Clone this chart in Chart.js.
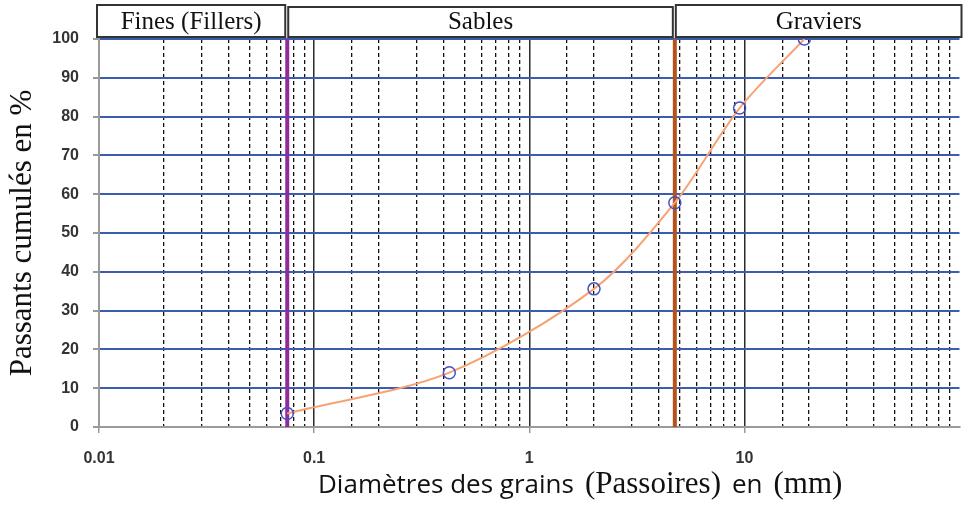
<!DOCTYPE html>
<html lang="fr">
<head>
<meta charset="utf-8">
<title>Courbe granulométrique</title>
<script src="https://cdn.jsdelivr.net/npm/chart.js@4.4.1/dist/chart.umd.min.js"></script>
<style>
    html, body { margin: 0; padding: 0; background: #fff; }
    #wrap { width: 967px; height: 505px; }
</style>
</head>
<body>
<div id="wrap"><canvas id="chart-granulo" width="967" height="505"></canvas></div>
<script>
// ouverture des tamis (mm) et passants cumulés (%)
const tamis = [0.075, 0.425, 2, 4.75, 9.5, 19];
const passants = [3.5, 14, 35.6, 57.8, 82.2, 100];

// limites des classes granulaires (mm) et leurs noms
const limites = [0.01, 0.075, 4.75, 100];
const classes = ['Fines (Fillers)', 'Sables', 'Graviers'];

// graduations
const xLabels = [0.01, 0.1, 1, 10];
const yMin = 0;
const yMax = 100;
const yStep = 10;

function isDecade(v) {
    const lg = Math.log10(v);
    return Math.abs(lg - Math.round(lg)) < 1e-9;
}

function isEdge(v) {
    return Math.abs(v - limites[0]) < 1e-9 || Math.abs(v - limites[limites.length - 1]) < 1e-9;
}

function limitLine(value) {
    return [{ x: value, y: yMin }, { x: value, y: yMax }];
}

// cadres des classes au-dessus du graphique
const classBoxes = {
    id: 'classBoxes',
    afterDraw(chart) {
        const { ctx } = chart;
        const x = chart.scales.x;
        ctx.save();
        ctx.font = '25px "Liberation Serif"';
        ctx.textAlign = 'center';
        ctx.textBaseline = 'middle';
        classes.forEach((name, i) => {
            const left = x.getPixelForValue(limites[i]) - (i === 0 ? 2 : -1);
            const right = x.getPixelForValue(limites[i + 1]) - (i === classes.length - 1 ? -2 : 2);
            const top = i === 1 ? 7 : 5;
            const bottom = 37;
            ctx.fillStyle = '#fff';
            ctx.fillRect(left, top, right - left, bottom - top);
            ctx.strokeStyle = '#333';
            ctx.lineWidth = 2;
            ctx.strokeRect(left, top, right - left, bottom - top);
            ctx.fillStyle = '#111';
            ctx.fillText(name, (left + right) / 2, 22);
        });
        ctx.restore();
    }
};

// titre de l'axe des x, en plusieurs polices
const xTitle = {
    id: 'xTitle',
    afterDraw(chart) {
        const { ctx } = chart;
        const parts = [
            { text: 'Diamètres des grains', font: '26px "Open Sans"' },
            { text: '(Passoires)', font: '31px "Liberation Serif"' },
            { text: 'en', font: '26px "Open Sans"' },
            { text: '(mm)', font: '31px "Liberation Serif"' }
        ];
        ctx.save();
        ctx.fillStyle = '#111';
        ctx.textBaseline = 'alphabetic';
        let x = 318;
        parts.forEach(p => {
            ctx.font = p.font;
            ctx.fillText(p.text, x, 493);
            x += ctx.measureText(p.text).width + 11;
        });
        ctx.restore();
    }
};

const tickFont = { family: 'Liberation Sans', size: 16, weight: 'bold' };

new Chart(document.getElementById('chart-granulo'), {
    type: 'line',
    data: {
        datasets: [
            {
                label: 'Courbe',
                data: tamis.map((t, i) => ({ x: t, y: passants[i] })),
                borderColor: '#f7a273',
                borderWidth: 2,
                tension: 0.3,
                pointRadius: 6,
                pointBorderWidth: 1.5,
                pointBorderColor: '#4650c4',
                pointBackgroundColor: 'rgba(0,0,0,0)',
                order: 0
            },
            {
                label: 'Limite fines',
                data: limitLine(limites[1]),
                borderColor: '#8e2c9c',
                borderWidth: 4,
                pointRadius: 0,
                order: 1
            },
            {
                label: 'Limite sables',
                data: limitLine(limites[2]),
                borderColor: '#b5531f',
                borderWidth: 4,
                pointRadius: 0,
                order: 1
            }
        ]
    },
    options: {
        responsive: false,
        animation: false,
        layout: {
            padding: { top: 39, right: 1, bottom: 0, left: 0 }
        },
        plugins: {
            legend: { display: false },
            tooltip: { enabled: false }
        },
        scales: {
            x: {
                type: 'logarithmic',
                min: limites[0],
                max: limites[limites.length - 1],
                afterFit: s => {
                    s.height = 78;
                    s.paddingLeft = 0;
                    s.paddingRight = 0;
                },
                ticks: {
                    autoSkip: false,
                    maxRotation: 0,
                    padding: 16,
                    color: '#333',
                    font: tickFont,
                    callback: v => xLabels.some(l => Math.abs(l - v) < 1e-9) ? String(v) : ''
                },
                grid: {
                    color: c => isEdge(c.tick.value) ? 'rgba(0,0,0,0)' : (isDecade(c.tick.value) ? '#2a2a2a' : '#111'),
                    lineWidth: c => isDecade(c.tick.value) ? 1.5 : 1.3,
                    tickLength: 6,
                    tickColor: c => (isDecade(c.tick.value) && c.tick.value < limites[limites.length - 1]) ? '#999' : 'rgba(0,0,0,0)'
                },
                border: {
                    color: '#9a9a9a',
                    width: 2,
                    dash: c => (c.tick && !isDecade(c.tick.value)) ? [4, 3] : []
                }
            },
            y: {
                min: yMin,
                max: yMax,
                afterFit: s => { s.width = 99; },
                ticks: {
                    stepSize: yStep,
                    padding: 14,
                    color: '#333',
                    font: tickFont
                },
                grid: {
                    color: c => c.tick.value === yMin ? 'rgba(0,0,0,0)' : '#3a5db3',
                    lineWidth: 2,
                    tickLength: 6,
                    tickColor: '#999'
                },
                border: { color: '#9a9a9a', width: 2 },
                title: {
                    display: true,
                    text: 'Passants cumulés en %',
                    color: '#111',
                    font: { family: 'Liberation Serif', size: 31 },
                    padding: { top: 4, bottom: 0 }
                }
            }
        }
    },
    plugins: [classBoxes, xTitle]
});
</script>
</body>
</html>
